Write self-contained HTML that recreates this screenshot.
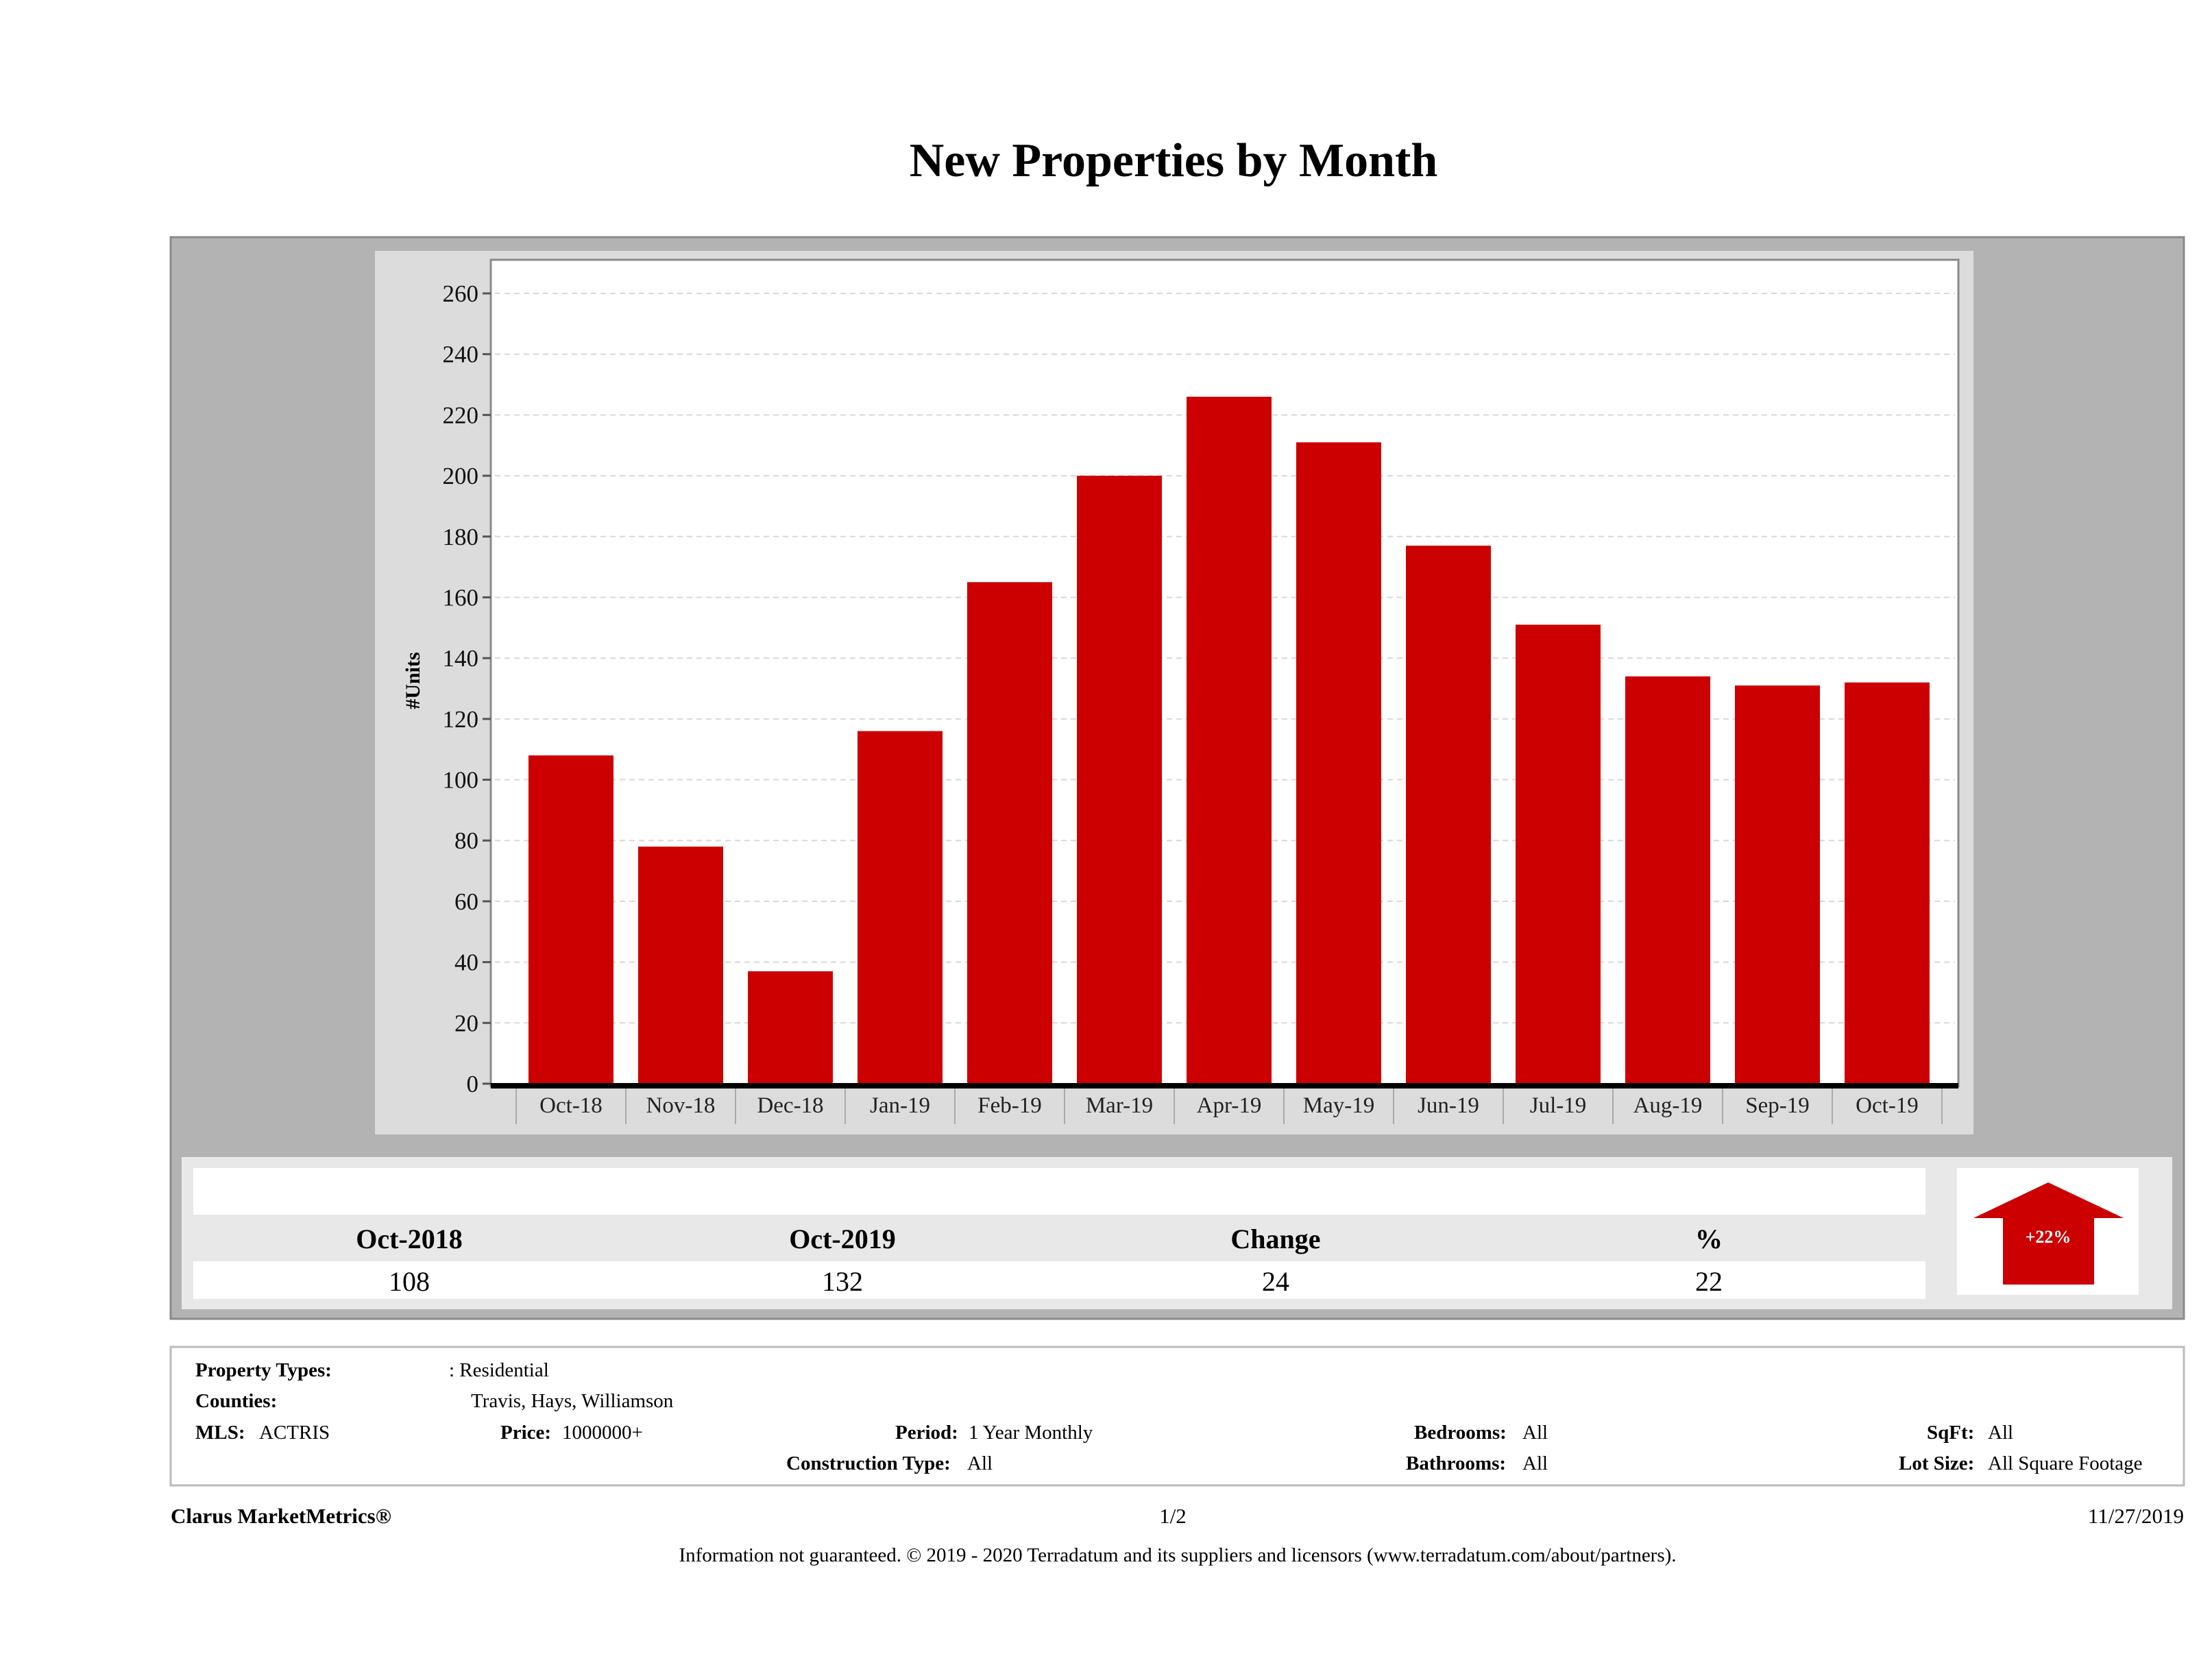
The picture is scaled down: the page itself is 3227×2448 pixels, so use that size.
<!DOCTYPE html>
<html><head><meta charset="utf-8"><style>
html,body{margin:0;padding:0;background:#fff;}
svg{display:block;font-family:"Liberation Serif",serif;}
</style></head><body>
<svg id="root" width="3227" height="2448" viewBox="0 0 3227 2448" xmlns="http://www.w3.org/2000/svg">
<text x="1712" y="257" font-size="70" font-weight="bold" text-anchor="middle" fill="#000">New Properties by Month</text>
<rect x="249" y="346" width="2937" height="1578" fill="#b3b3b3" stroke="#8a8a8a" stroke-width="3"/>
<rect x="547" y="366" width="2332" height="1289" fill="#dcdcdc"/>
<rect x="716" y="379" width="2141" height="1206" fill="#fff" stroke="#8a8a8a" stroke-width="3"/>
<g id="grid"></g>
<g id="bars"></g>
<g id="yticks"></g>
<g id="xticks"></g>
<text transform="translate(612,993) rotate(-90)" font-size="30" font-weight="bold" text-anchor="middle">#Units</text>

<rect x="265" y="1688" width="2904" height="222" fill="#e8e8e8"/>
<rect x="282" y="1704" width="2527" height="68" fill="#fff"/>
<rect x="282" y="1840" width="2527" height="55" fill="#fff"/>
<g font-size="40" font-weight="bold" text-anchor="middle">
<text x="597" y="1821">Oct-2018</text>
<text x="1229" y="1821">Oct-2019</text>
<text x="1861" y="1821">Change</text>
<text x="2493" y="1821">%</text>
</g>
<g font-size="40" text-anchor="middle">
<text x="597" y="1883">108</text>
<text x="1229" y="1883">132</text>
<text x="1861" y="1883">24</text>
<text x="2493" y="1883">22</text>
</g>
<rect x="2855" y="1704" width="265" height="185" fill="#fff"/>
<polygon points="2988,1725 3098,1777 3055,1777 3055,1874 2922,1874 2922,1777 2879,1777" fill="#cc0000"/>
<text x="2988" y="1813" font-size="26" font-weight="bold" fill="#fff" text-anchor="middle">+22%</text>

<rect x="249" y="1965" width="2937" height="202" fill="#fff" stroke="#bbb" stroke-width="3"/>
<g font-size="29" fill="#000">
<text x="285" y="2008" font-weight="bold">Property Types:</text><text x="655" y="2008">: Residential</text>
<text x="285" y="2053" font-weight="bold">Counties:</text><text x="687" y="2053">Travis, Hays, Williamson</text>
<text x="285" y="2099" font-weight="bold">MLS:</text><text x="378" y="2099">ACTRIS</text>
<text x="730" y="2099" font-weight="bold">Price:</text><text x="820" y="2099">1000000+</text>
<text x="1306" y="2099" font-weight="bold">Period:</text><text x="1413" y="2099">1 Year Monthly</text>
<text x="2063" y="2099" font-weight="bold">Bedrooms:</text><text x="2221" y="2099">All</text>
<text x="2811" y="2099" font-weight="bold">SqFt:</text><text x="2900" y="2099">All</text>
<text x="1147" y="2144" font-weight="bold">Construction Type:</text><text x="1411" y="2144">All</text>
<text x="2051" y="2144" font-weight="bold">Bathrooms:</text><text x="2221" y="2144">All</text>
<text x="2770" y="2144" font-weight="bold">Lot Size:</text><text x="2900" y="2144">All Square Footage</text>
</g>
<text x="249" y="2222" font-size="31" font-weight="bold">Clarus MarketMetrics®</text>
<text x="1711" y="2222" font-size="31" text-anchor="middle">1/2</text>
<text x="3186" y="2222" font-size="31" text-anchor="end">11/27/2019</text>
<text x="1718" y="2278" font-size="29" text-anchor="middle">Information not guaranteed. © 2019 - 2020 Terradatum and its suppliers and licensors (www.terradatum.com/about/partners).</text>
</svg>
<script>
const categories = ["Oct-18","Nov-18","Dec-18","Jan-19","Feb-19","Mar-19","Apr-19","May-19","Jun-19","Jul-19","Aug-19","Sep-19","Oct-19"];
const values = [108,78,37,116,165,200,226,211,177,151,134,131,132];
const yTicks = [0,20,40,60,80,100,120,140,160,180,200,220,240,260];

const NS = "http://www.w3.org/2000/svg";
const plotLeft = 753, bandW = 160, barW = 124;
const y0 = 1581, pxPerUnit = (1581 - 428) / 260;
function yScale(v){ return y0 - v * pxPerUnit; }
function xBand(i){ return plotLeft + i * bandW; }
function mk(tag, attrs, parent){ const e = document.createElementNS(NS, tag); for (const k in attrs) e.setAttribute(k, attrs[k]); parent.appendChild(e); return e; }

const grid = document.getElementById('grid');
const yt = document.getElementById('yticks');
yTicks.forEach(t => {
  const y = yScale(t);
  if (t > 0) {
    const gl = mk('line', {x1: 722, x2: 2852, y1: y, y2: y, stroke: '#d8d8d8', 'stroke-width': 2, 'stroke-dasharray': '8,6'}, grid);
    
    
  }
  const tk = mk('line', {x1: 704, x2: 716, y1: y, y2: y, stroke: '#555', 'stroke-width': 3}, yt);
  
  
  const tx = mk('text', {x: 698, y: y + 12, 'font-size': 35, 'text-anchor': 'end', fill: '#111'}, yt);
  tx.textContent = t;
  
  
});

const bars = document.getElementById('bars');
const xt = document.getElementById('xticks');
categories.forEach((c, i) => {
  const cx = xBand(i) + bandW / 2;
  const r = mk('rect', {x: cx - barW / 2, y: yScale(values[i]), width: barW, height: y0 - yScale(values[i]), fill: '#cc0000'}, bars);
  
  
  const sep = mk('line', {x1: xBand(i), x2: xBand(i), y1: 1588, y2: 1640, stroke: '#aaa', 'stroke-width': 2}, xt);
  
  
  const tx = mk('text', {x: cx, y: 1623, 'font-size': 33, 'text-anchor': 'middle', fill: '#222'}, xt);
  tx.textContent = c;
  
  
});
const lastSep = mk('line', {x1: xBand(categories.length), x2: xBand(categories.length), y1: 1588, y2: 1640, stroke: '#aaa', 'stroke-width': 2}, xt);


const axis = mk('line', {x1: 716, x2: 2857, y1: 1584, y2: 1584, stroke: '#000', 'stroke-width': 8}, xt);


</script>
</body></html>
